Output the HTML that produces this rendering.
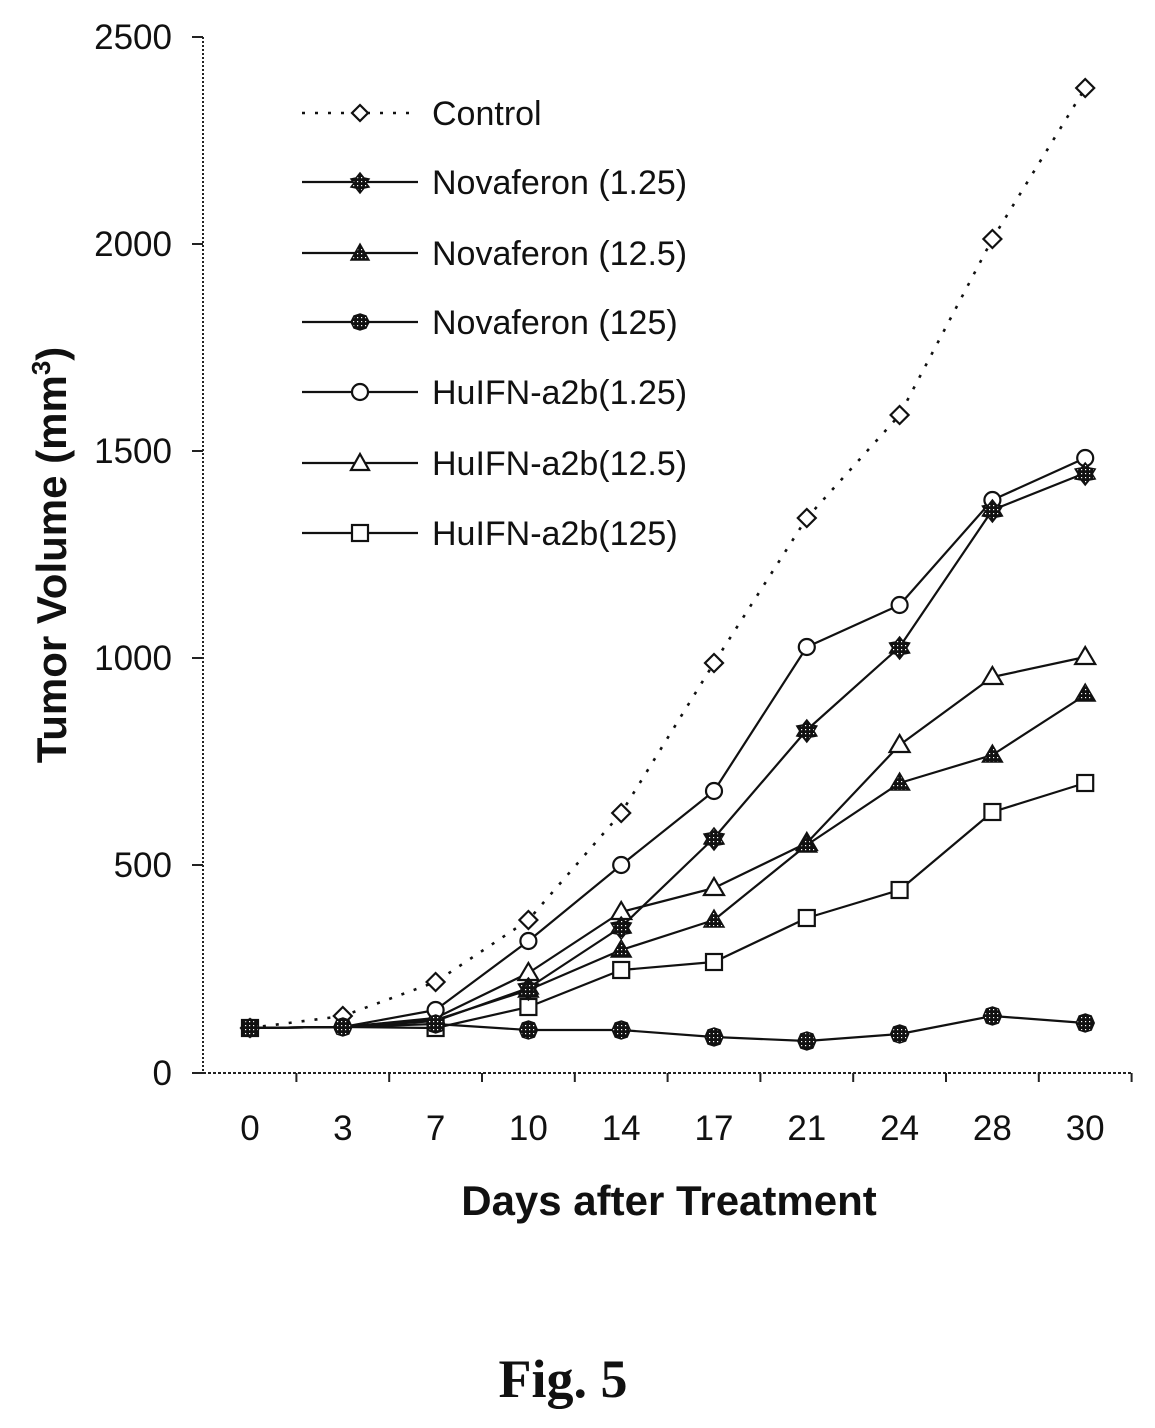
<!DOCTYPE html>
<html><head><meta charset="utf-8"><style>
html,body{margin:0;padding:0;background:#fff;}
svg{display:block;}
text{font-family:"Liberation Sans",Arial,sans-serif;fill:#111;}
</style></head><body>
<svg width="1155" height="1428" viewBox="0 0 1155 1428" xmlns="http://www.w3.org/2000/svg">
<defs>
<pattern id="h" width="4" height="4" patternUnits="userSpaceOnUse">
<rect width="4" height="4" fill="#111"/><rect x="1" y="1" width="1.2" height="1.2" fill="#fff"/>
</pattern>
</defs>
<rect width="1155" height="1428" fill="#fff"/>

<!-- axes -->
<g stroke="#222" stroke-width="2" fill="none">
<line x1="203" y1="37" x2="203" y2="1073" stroke-dasharray="2 2"/>
<line x1="203" y1="1073" x2="1132" y2="1073" stroke-dasharray="3 2"/>
<path d="M192 37H203M192 244H203M192 451H203M192 658H203M192 865H203M192 1073H203"/>
<path d="M296.4 1073V1082M389.2 1073V1082M482 1073V1082M574.8 1073V1082M667.6 1073V1082M760.4 1073V1082M853.2 1073V1082M946 1073V1082M1038.8 1073V1082M1131.6 1073V1082"/>
</g>

<!-- y tick labels -->
<g font-size="35" text-anchor="end">
<text x="172" y="49">2500</text>
<text x="172" y="256">2000</text>
<text x="172" y="463">1500</text>
<text x="172" y="670">1000</text>
<text x="172" y="877">500</text>
<text x="172" y="1085">0</text>
</g>
<!-- x tick labels -->
<g font-size="35" text-anchor="middle">
<text x="250" y="1140">0</text>
<text x="342.8" y="1140">3</text>
<text x="435.6" y="1140">7</text>
<text x="528.4" y="1140">10</text>
<text x="621.2" y="1140">14</text>
<text x="714" y="1140">17</text>
<text x="806.8" y="1140">21</text>
<text x="899.6" y="1140">24</text>
<text x="992.4" y="1140">28</text>
<text x="1085.2" y="1140">30</text>
</g>

<text x="669" y="1215" font-size="42" font-weight="bold" text-anchor="middle">Days after Treatment</text>
<text transform="translate(66,555) rotate(-90)" font-size="42" font-weight="bold" text-anchor="middle">Tumor Volume (mm<tspan font-size="26" dy="-16">3</tspan><tspan dy="16">)</tspan></text>
<text x="563" y="1397" font-size="54" font-weight="bold" text-anchor="middle" style="font-family:'Liberation Serif',serif">Fig. 5</text>

<!-- series lines -->
<g fill="none" stroke="#111" stroke-width="2.2" stroke-linejoin="round">
<!-- Control dotted -->
<polyline stroke-dasharray="3 10" stroke-width="2.6" points="250,1028 342.8,1016 435.6,982 528.4,920 621.2,813 714,663 806.8,518 899.6,415 992.4,239 1085.2,88"/>
<!-- HuIFN 1.25 circle -->
<polyline points="250,1028 342.8,1027 435.6,1010 528.4,941 621.2,865 714,791 806.8,647 899.6,605 992.4,500 1085.2,458"/>
<!-- Novaferon 1.25 -->
<polyline points="250,1028 342.8,1027 435.6,1021 528.4,988 621.2,927 714,838 806.8,730 899.6,647 992.4,510 1085.2,473"/>
<!-- HuIFN 12.5 triangle -->
<polyline points="250,1028 342.8,1027 435.6,1018 528.4,973 621.2,912 714,888 806.8,843 899.6,745 992.4,677 1085.2,657"/>
<!-- Novaferon 12.5 -->
<polyline points="250,1028 342.8,1027 435.6,1020 528.4,990 621.2,950 714,920 806.8,845 899.6,783 992.4,755 1085.2,695"/>
<!-- HuIFN 125 square -->
<polyline points="250,1028 342.8,1027 435.6,1028 528.4,1007 621.2,970 714,962 806.8,918 899.6,890 992.4,812 1085.2,783"/>
<!-- Novaferon 125 -->
<polyline points="250,1028 342.8,1027 435.6,1024 528.4,1030 621.2,1030 714,1037 806.8,1041 899.6,1034 992.4,1016 1085.2,1023"/>
</g>

<!-- markers -->
<g stroke="#111" stroke-width="2.2">
<!-- control diamonds -->
<g fill="#fff">
<path d="M250 1019l9 9-9 9-9-9z"/><path d="M342.8 1007l9 9-9 9-9-9z"/><path d="M435.6 973l9 9-9 9-9-9z"/><path d="M528.4 911l9 9-9 9-9-9z"/><path d="M621.2 804l9 9-9 9-9-9z"/><path d="M714 654l9 9-9 9-9-9z"/><path d="M806.8 509l9 9-9 9-9-9z"/><path d="M899.6 406l9 9-9 9-9-9z"/><path d="M992.4 230l9 9-9 9-9-9z"/><path d="M1085.2 79l9 9-9 9-9-9z"/>
</g>
<!-- circles -->
<g fill="#fff">
<circle cx="250" cy="1028" r="8"/><circle cx="342.8" cy="1027" r="8"/><circle cx="435.6" cy="1010" r="8"/><circle cx="528.4" cy="941" r="8"/><circle cx="621.2" cy="865" r="8"/><circle cx="714" cy="791" r="8"/><circle cx="806.8" cy="647" r="8"/><circle cx="899.6" cy="605" r="8"/><circle cx="992.4" cy="500" r="8"/><circle cx="1085.2" cy="458" r="8"/>
</g>
<!-- open triangles -->
<g fill="#fff">
<path d="M528.4 963l10 17h-20z"/><path d="M621.2 902l10 17h-20z"/><path d="M714 878l10 17h-20z"/><path d="M806.8 833l10 17h-20z"/><path d="M899.6 735l10 17h-20z"/><path d="M992.4 667l10 17h-20z"/><path d="M1085.2 647l10 17h-20z"/>
</g>
<!-- open squares -->
<g fill="#fff">
<rect x="242" y="1020" width="16" height="16"/><rect x="427.6" y="1020" width="16" height="16"/><rect x="520.4" y="999" width="16" height="16"/><rect x="613.2" y="962" width="16" height="16"/><rect x="706" y="954" width="16" height="16"/><rect x="798.8" y="910" width="16" height="16"/><rect x="891.6" y="882" width="16" height="16"/><rect x="984.4" y="804" width="16" height="16"/><rect x="1077.2" y="775" width="16" height="16"/>
</g>
<!-- Novaferon 1.25 filled stars (hatched octagon-like) -->
<g fill="url(#h)" stroke-width="1.5">
<path d="M528.4 978l4 5 6 1-3 5 3 5-6 1-4 5-4-5-6-1 3-5-3-5 6-1z"/>
<path d="M621.2 917l4 5 6 1-3 5 3 5-6 1-4 5-4-5-6-1 3-5-3-5 6-1z"/>
<path d="M714 828l4 5 6 1-3 5 3 5-6 1-4 5-4-5-6-1 3-5-3-5 6-1z"/>
<path d="M806.8 720l4 5 6 1-3 5 3 5-6 1-4 5-4-5-6-1 3-5-3-5 6-1z"/>
<path d="M899.6 637l4 5 6 1-3 5 3 5-6 1-4 5-4-5-6-1 3-5-3-5 6-1z"/>
<path d="M992.4 500l4 5 6 1-3 5 3 5-6 1-4 5-4-5-6-1 3-5-3-5 6-1z"/>
<path d="M1085.2 463l4 5 6 1-3 5 3 5-6 1-4 5-4-5-6-1 3-5-3-5 6-1z"/>
</g>
<!-- Novaferon 12.5 filled triangles -->
<g fill="url(#h)" stroke-width="1.5">
<path d="M528.4 980l10 17h-20z"/><path d="M621.2 940l10 17h-20z"/><path d="M714 910l10 17h-20z"/><path d="M806.8 835l10 17h-20z"/><path d="M899.6 773l10 17h-20z"/><path d="M992.4 745l10 17h-20z"/><path d="M1085.2 684l10 17h-20z"/>
</g>
<!-- Novaferon 125 filled -->
<g fill="url(#h)" stroke-width="1.5">
<path d="M250 1019l6 2 3 7-3 7-6 2-6-2-3-7 3-7z"/>
<path d="M342.8 1018l6 2 3 7-3 7-6 2-6-2-3-7 3-7z"/>
<path d="M435.6 1015l6 2 3 7-3 7-6 2-6-2-3-7 3-7z"/>
<path d="M528.4 1021l6 2 3 7-3 7-6 2-6-2-3-7 3-7z"/>
<path d="M621.2 1021l6 2 3 7-3 7-6 2-6-2-3-7 3-7z"/>
<path d="M714 1028l6 2 3 7-3 7-6 2-6-2-3-7 3-7z"/>
<path d="M806.8 1032l6 2 3 7-3 7-6 2-6-2-3-7 3-7z"/>
<path d="M899.6 1025l6 2 3 7-3 7-6 2-6-2-3-7 3-7z"/>
<path d="M992.4 1007l6 2 3 7-3 7-6 2-6-2-3-7 3-7z"/>
<path d="M1085.2 1014l6 2 3 7-3 7-6 2-6-2-3-7 3-7z"/>
</g>
</g>

<!-- legend -->
<g fill="none" stroke="#111" stroke-width="2.2">
<line x1="302" y1="113" x2="418" y2="113" stroke-dasharray="3 10" stroke-width="2.6"/>
<line x1="302" y1="182" x2="418" y2="182"/>
<line x1="302" y1="253" x2="418" y2="253"/>
<line x1="302" y1="322" x2="418" y2="322"/>
<line x1="302" y1="392" x2="418" y2="392"/>
<line x1="302" y1="463" x2="418" y2="463"/>
<line x1="302" y1="533" x2="418" y2="533"/>
</g>
<g stroke="#111" stroke-width="2.2">
<path d="M360 105l8 8-8 8-8-8z" fill="#fff"/>
<path d="M360 173l4 5 5 1-3 4 3 4-5 1-4 5-4-5-5-1 3-4-3-4 5-1z" fill="url(#h)" stroke-width="1.5"/>
<path d="M360 244l9 16h-18z" fill="url(#h)" stroke-width="1.5"/>
<path d="M360 314l6 2 3 6-3 6-6 2-6-2-3-6 3-6z" fill="url(#h)" stroke-width="1.5"/>
<circle cx="360" cy="392" r="8" fill="#fff"/>
<path d="M360 454l9 16h-18z" fill="#fff"/>
<rect x="352" y="525" width="16" height="16" fill="#fff"/>
</g>
<g font-size="34">
<text x="432" y="125">Control</text>
<text x="432" y="194">Novaferon (1.25)</text>
<text x="432" y="265">Novaferon (12.5)</text>
<text x="432" y="334">Novaferon (125)</text>
<text x="432" y="404">HuIFN-a2b(1.25)</text>
<text x="432" y="475">HuIFN-a2b(12.5)</text>
<text x="432" y="545">HuIFN-a2b(125)</text>
</g>
</svg>
</body></html>
